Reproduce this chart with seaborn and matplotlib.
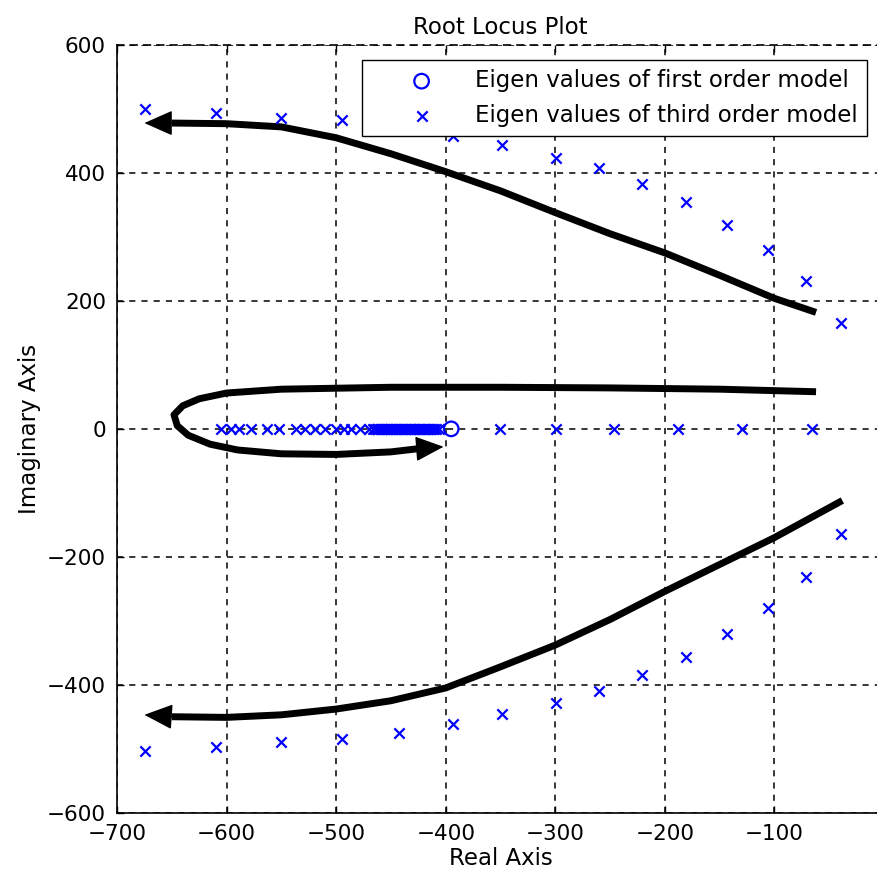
import matplotlib
matplotlib.use("Agg")
import matplotlib.pyplot as plt
import seaborn as sns

# third order model eigenvalues (complex pair + real axis)
third_upper_re = [-674, -610, -550, -495, -443, -393, -349, -299, -260, -221, -181, -143, -106, -71, -39]
third_upper_im = [500, 494, 486, 482, 474, 458, 443, 424, 407, 383, 355, 319, 279, 231, 165]
third_lower_re = [-674, -610, -550, -495, -443, -393, -349, -299, -260, -221, -181, -143, -106, -71, -39]
third_lower_im = [-503, -498, -490, -485, -476, -462, -446, -428, -410, -385, -356, -321, -280, -232, -165]
third_real_re = [-605, -596, -589, -578, -563, -552, -537, -528, -519, -510, -500, -493, -486, -478, -470,
                 -466, -464.5, -463, -461.5, -460, -458.5, -457, -455.5, -454, -452.5, -451, -449.5,
                 -448, -446.5, -445, -443.5, -442, -440.5, -439, -437.5, -436, -434.5, -433, -431.5,
                 -430, -428.5, -427, -425.5, -424, -422.5, -421, -419.5, -418, -416.5, -415, -413.5,
                 -412, -410.5, -409, -406, -350, -299, -246, -188, -130, -66]
third_real_im = [0] * len(third_real_re)

# first order model eigenvalue
first_re = [-395]
first_im = [0]

# hand drawn locus arrows (last pair = arrow tip)
upper_re = [-62, -100, -150, -200, -250, -300, -350, -400, -450, -500, -550, -600, -650, -675]
upper_im = [182, 204, 240, 275, 305, 338, 372, 402, 430, 455, 472, 477, 478, 478]
mid_re = [-62, -150, -250, -350, -450, -550, -600, -625, -640, -648, -645, -635, -615, -590, -550, -500, -450, -425, -402]
mid_im = [58, 62, 64, 65, 65, 62, 56, 47, 36, 22, 5, -10, -24, -33, -39, -40, -36, -31, -28]
lower_re = [-38, -100, -150, -200, -250, -300, -350, -400, -450, -500, -550, -600, -650, -675]
lower_im = [-112, -170, -212, -254, -298, -338, -372, -405, -425, -438, -447, -451, -450, -447]

sns.set_style("white")
plt.rcParams['font.family'] = ['DejaVu Sans']
plt.rcParams['text.color'] = 'black'
plt.rcParams['axes.labelcolor'] = 'black'
plt.rcParams['xtick.color'] = 'black'
plt.rcParams['ytick.color'] = 'black'

fig = plt.figure(figsize=(8.77, 8.83), dpi=100)
ax = fig.add_axes([117/877, 1 - 812.7/883, (884 - 117)/877, (812.7 - 45)/883])

for xs, ys in [(upper_re, upper_im), (mid_re, mid_im), (lower_re, lower_im)]:
    sns.lineplot(x=xs[:-1], y=ys[:-1], sort=False, estimator=None, color='black',
                 linewidth=5, ax=ax, solid_capstyle='butt', zorder=3)
    ax.annotate("", xy=(xs[-1], ys[-1]), xytext=(xs[-2], ys[-2]),
                arrowprops=dict(arrowstyle='-|>,head_length=0.9,head_width=0.4',
                                mutation_scale=20, color='black', lw=1,
                                shrinkA=0, shrinkB=0), zorder=3)

sns.scatterplot(x=first_re, y=first_im, marker='o', s=110, facecolor='none',
                edgecolor='blue', linewidth=1.6, ax=ax, zorder=4,
                label='Eigen values of first order model')
sns.scatterplot(x=third_upper_re + third_lower_re + third_real_re,
                y=third_upper_im + third_lower_im + third_real_im,
                marker='x', s=55, color='blue', linewidth=1.6, ax=ax, zorder=4,
                label='Eigen values of third order model')

ax.set_xlim(-700, 0)
ax.set_ylim(-600, 600)
ax.set_xticks(range(-700, -99, 100))
ax.set_yticks(range(-600, 601, 200))
ax.grid(True, color='black', linestyle=(0, (4, 4)), linewidth=1.1)
ax.tick_params(direction='in', length=5, width=1, bottom=True, left=True, top=True,
               right=False, labelsize=15.5, pad=8)
ax.spines['top'].set_linestyle((0, (4, 4)))
ax.spines['right'].set_visible(False)
for s in ax.spines.values():
    s.set_color('black')
    s.set_linewidth(1.2)
ax.set_xlabel('Real Axis', fontsize=16.5, labelpad=2)
ax.set_ylabel('Imaginary Axis', fontsize=16.5, labelpad=4)
ax.set_title('Root Locus Plot', fontsize=16.5, pad=8)

leg = ax.legend(loc='upper left', bbox_to_anchor=(362/877, 1 - 60/883),
                bbox_transform=fig.transFigure, borderaxespad=0, fancybox=False,
                framealpha=1, edgecolor='black', handlelength=4.4, handletextpad=0.13,
                borderpad=0.4, fontsize=16.5)
leg.get_frame().set_linewidth(1.0)
leg.set_zorder(10)

fig.savefig('out.png', dpi=100)
